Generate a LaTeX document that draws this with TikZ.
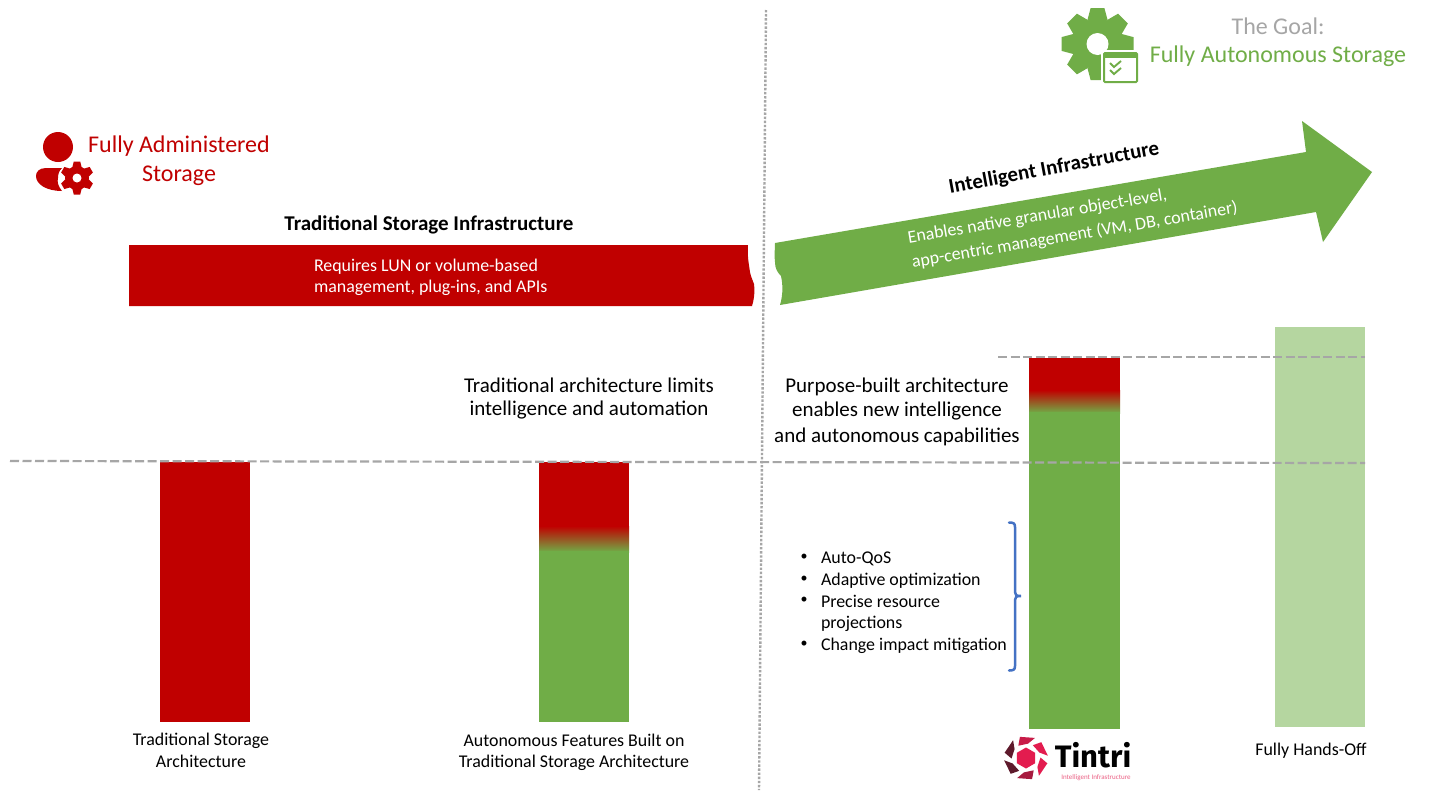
\documentclass[tikz,border=0pt]{standalone}
\usepackage{fontspec}
\setmainfont{Carlito}
\newfontfamily\tintrifont{Fira Sans}
\definecolor{redbar}{HTML}{C00000}
\definecolor{greenbar}{HTML}{70AD47}
\definecolor{lightgreen}{HTML}{B5D6A0}
\definecolor{guide}{HTML}{A6A6A6}
\definecolor{bracecol}{HTML}{4472C4}
\definecolor{tintri}{HTML}{E31C4F}
\definecolor{maroon}{HTML}{5E1A2C}
\newcommand{\px}[1]{\fontsize{#1}{#1}\selectfont}
\newcommand{\cogwheel}[7]{% x y outer body hole teeth colour
  \fill[#7] (#1,#2) circle [radius=#4];
  \pgfmathsetmacro{\cogstep}{360/#6}
  \foreach \k in {1,...,#6}{
    \pgfmathsetmacro{\cogang}{\k*\cogstep}
    \pgfmathsetmacro{\cogw}{#4*0.40}
    \pgfmathsetmacro{\cogt}{#4*0.27}
    \fill[#7,shift={(#1,#2)},rotate=\cogang] (-\cogw,#4-2) -- (-\cogt,#3) -- (\cogt,#3) -- (\cogw,#4-2) -- cycle;
  }
  \fill[white] (#1,#2) circle [radius=#5];
}
\newcommand{\logopiece}[2]{% angle colour
  \fill[#2] (#1-24:22pt) -- (#1+16:22pt) -- (#1+32:14.5pt) -- (#1-8:14.5pt) -- cycle;
}
\tikzset{
  txt/.style={inner sep=0pt,outer sep=0pt,align=center,yshift=-1.5pt},
  headred/.style={txt,text=redbar,font=\px{24}},
  heading/.style={txt,font=\px{21}},
  barlabel/.style={txt,font=\px{17.9}},
  bullettext/.style={txt,anchor=west,font=\px{17.9}},
  bulletdot/.style={txt,font=\px{14}},
  whitetext/.style={txt,anchor=west,text=white,font=\px{17.9}},
  dashline/.style={guide,line width=2.2pt,dash pattern=on 9pt off 3.5pt},
  dotline/.style={guide,line width=2.4pt,dash pattern=on 2.4pt off 1.7pt},
}
\begin{document}
\begin{tikzpicture}[x=1pt,y=-1pt]
\useasboundingbox[fill=white] (0,0) rectangle (1431,793);

% bars
\fill[redbar] (160,462) rectangle (250,722);
\fill[redbar] (539,462) rectangle (629,527);
\shade[top color=redbar,bottom color=greenbar] (539,526) rectangle (629,552);
\fill[greenbar] (539,551) rectangle (629,722);
\fill[redbar] (1029,358) rectangle (1120,391);
\shade[top color=redbar,bottom color=greenbar] (1029,390) rectangle (1120,413);
\fill[greenbar] (1029,412) rectangle (1120,729);
\fill[lightgreen] (1275,327) rectangle (1365,727);

% guide lines
\coordinate (hstart) at (10,461);
\coordinate (hend) at (1365,463);
\coordinate (tstart) at (998,357);
\coordinate (tend) at (1365,357);
\coordinate (vtop) at (766,10);
\coordinate (vbot) at (759,790);
\draw[dotline] (vtop) -- (vbot);
\draw[dashline] (hstart) -- (hend);
\draw[dashline] (tstart) -- (tend);

% red banner
\fill[redbar] (129,245) -- (748,245) .. controls (747,255) and (749,265) .. (750,272)
  .. controls (751,278) and (753,280) .. (754,284) .. controls (755,292) and (754,300) .. (752,306)
  -- (129,306) -- cycle;
\node[whitetext] (req1) at (314,265) {Requires LUN or volume-based};
\node[whitetext] (req2) at (314,286) {management, plug-ins, and APIs};

% green arrow
\fill[greenbar] (775,243) -- (1306,152) -- (1302,121) -- (1372,172) -- (1323,242) -- (1316,212)
  -- (780,305) .. controls (783,295) and (783,285) .. (781,276)
  .. controls (777,272) and (775,268) .. (775,262) .. controls (774,255) and (775,250) .. (775,243) -- cycle;
\node[whitetext,rotate=9.5] (en1) at (908,237) {Enables native granular object-level,};
\node[whitetext,rotate=9.5] (en2) at (912,261) {app-centric management (VM, DB, container)};
\node[heading,font=\px{21}\bfseries,rotate=10.5] (intinf) at (1054,167) {Intelligent Infrastructure};

% goal heading
\node[txt,text=guide,font=\px{24}] (goal1) at (1278,25) {The Goal:};
\node[txt,text=greenbar,font=\px{24}] (goal2) at (1278,55) {Fully Autonomous Storage};

% big gear with window
\cogwheel{1097.5}{44}{36}{25.5}{11}{8}{greenbar}
\fill[white] (1101,50) rectangle (1141,87);
\draw[greenbar,line width=2pt,rounded corners=1pt] (1104,53) rectangle (1137,82);
\fill[greenbar] (1104,53) rectangle (1137,58);
\draw[greenbar,line width=1.9pt] (1110,63) -- (1114,67) -- (1121,61);
\draw[greenbar,line width=1.9pt] (1110,70) -- (1114,74) -- (1121,68);

% administered icon
\fill[redbar] (58,147) circle [radius=15];
\fill[redbar] (62,168) -- (46,168) .. controls (39,168) and (36,172) .. (36,176)
  .. controls (36,184) and (46,191) .. (62,191) .. controls (58,186) and (57,182) .. (58,178)
  .. controls (58,174) and (59,171) .. (62,168) -- cycle;
\cogwheel{77}{178}{16.5}{12}{4.5}{6}{redbar}
\node[headred] (adm1) at (179,145) {Fully Administered};
\node[headred] (adm2) at (179,174) {Storage};

\node[heading,font=\px{21}\bfseries] (tradinf) at (429,223) {Traditional Storage Infrastructure};
\node[heading] (lim1) at (589,384) {Traditional architecture limits};
\node[heading] (lim2) at (589,409) {intelligence and automation};
\node[heading] (pur1) at (897,385) {Purpose-built architecture};
\node[heading] (pur2) at (897,410) {enables new intelligence};
\node[heading] (pur3) at (897,435) {and autonomous capabilities};

% bullet list
\node[bulletdot] (b1) at (804,556) {•};
\node[bulletdot] (b2) at (804,578) {•};
\node[bulletdot] (b3) at (804,599) {•};
\node[bulletdot] (b4) at (804,643) {•};
\node[bullettext] (t1) at (821,557) {Auto-QoS};
\node[bullettext] (t2) at (821,579) {Adaptive optimization};
\node[bullettext] (t3) at (821,600) {Precise resource};
\node[bullettext] (t3b) at (821,622) {projections};
\node[bullettext] (t4) at (821,644) {Change impact mitigation};

% brace
\draw[bracecol,line width=2.5pt,line cap=round] (1009,522.5) .. controls (1013,522.5) and (1015,523) .. (1015,527)
  -- (1015,592) .. controls (1015,595) and (1016,596) .. (1021,596)
  .. controls (1016,596) and (1015,597) .. (1015,600)
  -- (1015,666) .. controls (1015,670) and (1013,670.5) .. (1009,670.5);

% bottom labels
\node[barlabel] (l1a) at (201,739) {Traditional Storage};
\node[barlabel] (l1b) at (201,760) {Architecture};
\node[barlabel] (l2a) at (574,739) {Autonomous Features Built on};
\node[barlabel] (l2b) at (574,761) {Traditional Storage Architecture};
\node[barlabel] (l4) at (1311,749) {Fully Hands-Off};

% Tintri logo
\begin{scope}[shift={(1026,758)}]
  \fill[tintri] (90:10.5pt) -- (150:10.5pt) -- (210:10.5pt) -- (270:10.5pt) -- (330:10.5pt) -- (30:10.5pt) -- cycle;
  \logopiece{90}{tintri!80!maroon}
  \logopiece{150}{maroon}
  \logopiece{210}{maroon}
  \logopiece{270}{tintri!55!maroon}
  \logopiece{330}{tintri}
  \logopiece{30}{tintri}
\end{scope}
\node[inner sep=0pt,outer sep=0pt,font=\px{31}\tintrifont\bfseries] (tintriname) at (1093,755) {Tintri};
\node[inner sep=0pt,outer sep=0pt,text=tintri!70!white,font=\px{7}] (tintrisub) at (1096,778) {Intelligent Infrastructure};
\end{tikzpicture}
\end{document}
